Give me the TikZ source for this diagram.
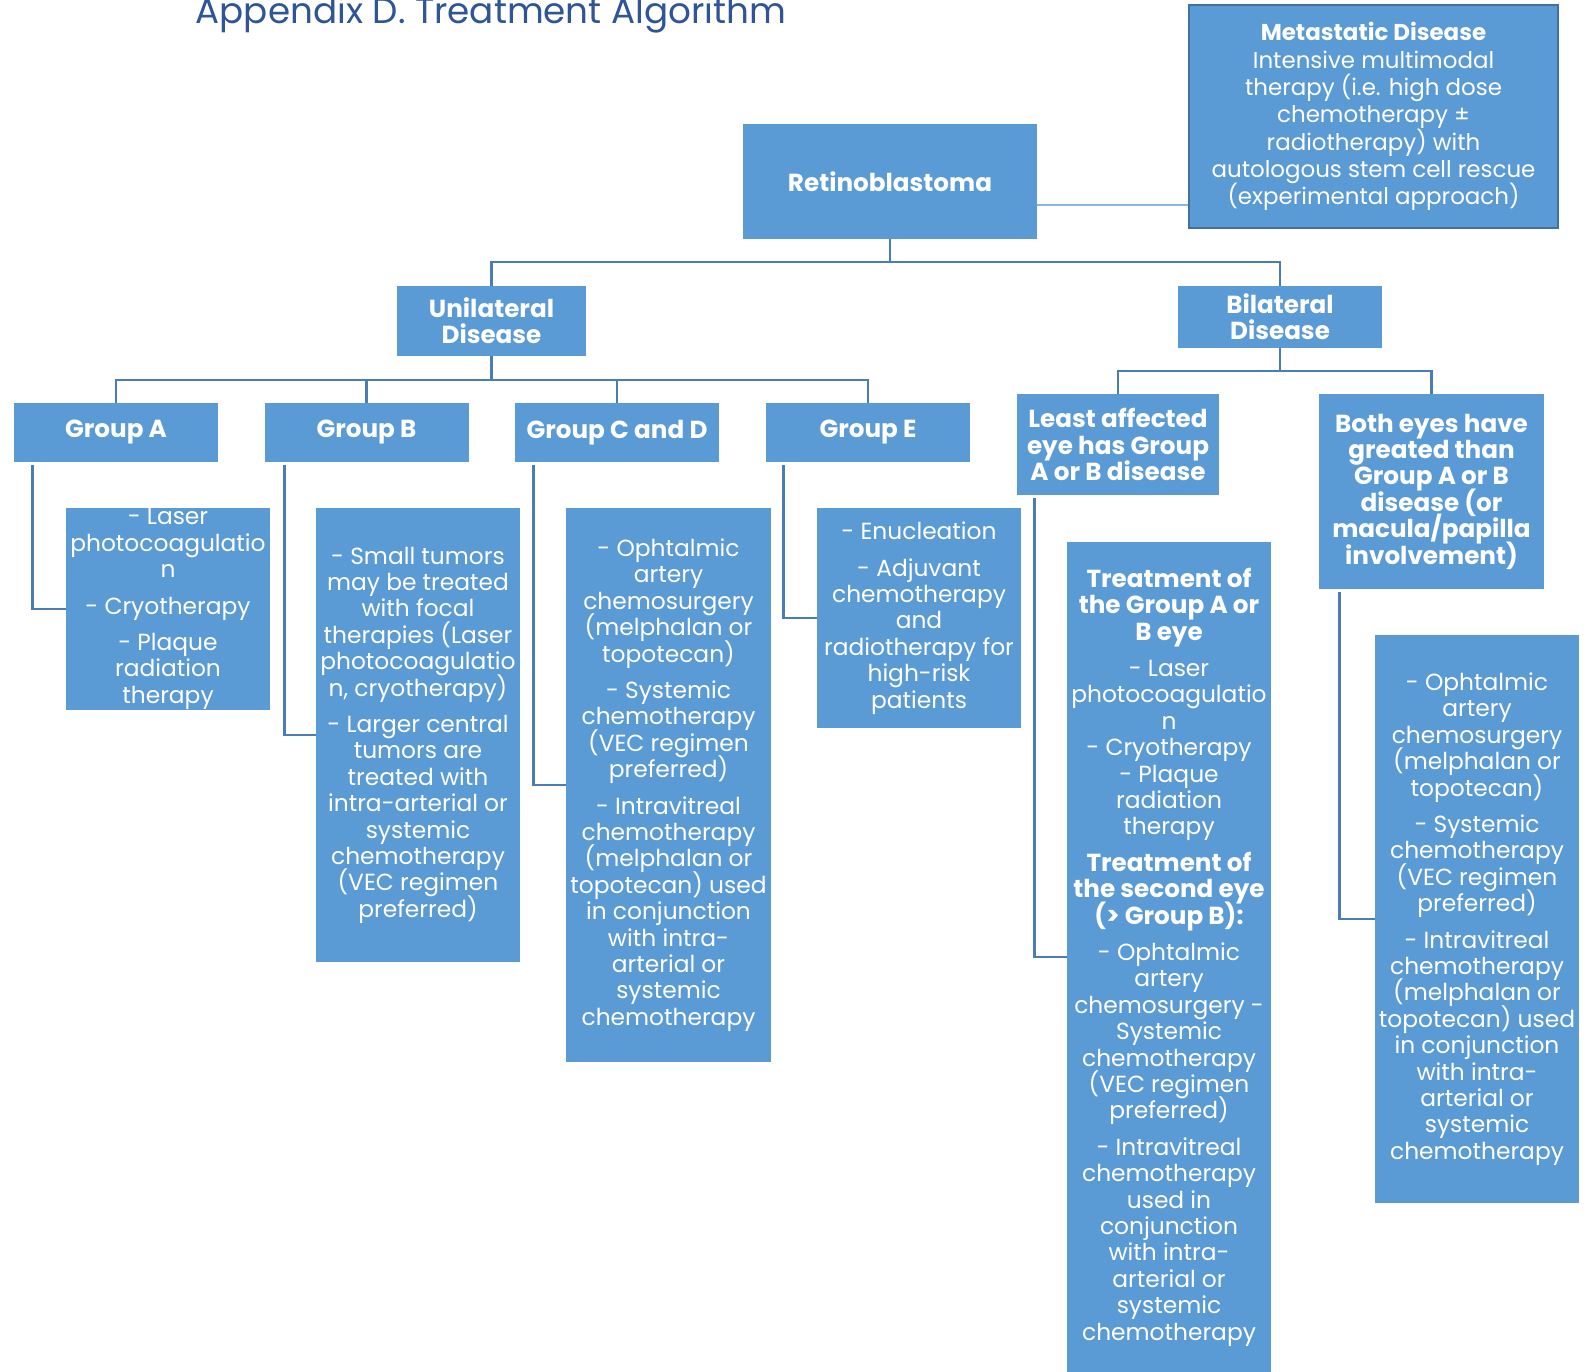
\documentclass[tikz,border=0pt]{standalone}
\usepackage{fontspec}
\setmainfont{Poppins}
\definecolor{boxblue}{HTML}{5B9BD5}
\definecolor{linkblue}{HTML}{4A7DB5}
\definecolor{lightlink}{HTML}{8EB4E3}
\definecolor{metaedge}{HTML}{41719C}
\definecolor{titleblue}{HTML}{2F5597}
\newcommand\hb[1]{{\fontsize{18.5}{19.8}\selectfont\bfseries #1}}
\newcommand\tightskip{\lineskiplimit=-30pt\relax\lineskip=0pt\relax}
\begin{document}
\begin{tikzpicture}[x=0.75pt,y=-0.75pt,
  box/.style 2 args={fill=boxblue, draw=none, inner sep=0pt, align=center, text=white,
     minimum width=#1*0.75pt, minimum height=#2*0.75pt,
     font=\fontsize{17.5}{19.8}\selectfont\tightskip},
  hd/.style={font=\fontsize{18.5}{19.8}\selectfont\bfseries\tightskip},
  link/.style={draw=linkblue, line width=2.2pt},
  lightlink/.style={draw=lightlink, line width=1.5pt}]
\useasboundingbox (0,0) rectangle (1594,1371);
\def\gap{7.5pt}

\node[anchor=base west, text=titleblue, font=\fontsize{26.8}{30}\selectfont] (title) at (191,23) {Appendix D. Treatment Algorithm};

% top level
\node[box={294}{115}, hd] (retino) at (890,181.5) {Retinoblastoma};
\node[box={369}{223}, draw=metaedge, line width=1.9pt, font=\fontsize{17.2}{20.5}\selectfont\tightskip] (meta) at (1373.5,116.5)
  {\textbf{Metastatic Disease}\\Intensive multimodal\\therapy (i.e. high dose\\chemotherapy ±\\radiotherapy) with\\autologous stem cell rescue\\(experimental approach)};

\node[box={189}{70}, hd] (uni) at (491.5,321) {Unilateral\\Disease};
\node[box={204}{62}, hd] (bil) at (1280,317) {Bilateral\\Disease};

% groups
\node[box={204}{59}, hd] (gA) at (116,432.5) {Group A};
\node[box={204}{59}, hd] (gB) at (366.5,432.5) {Group B};
\node[box={204}{59}, hd] (gCD) at (617,432.5) {Group C and D};
\node[box={204}{59}, hd] (gE) at (868,432.5) {Group E};

\node[box={202}{101}, hd] (least) at (1118,444.5) {Least affected\\eye has Group\\A or B disease};
\node[box={225}{195}, hd] (both) at (1431.5,491.5) {Both eyes have\\greated than\\Group A or B\\disease (or\\macula/papilla\\involvement)};

% details
\node[box={204}{202}] (dA) at (168,609) {- Laser\\photocoagulatio\\n\\[\gap]- Cryotherapy\\[\gap]- Plaque\\radiation\\therapy};
\node[box={204}{454}] (dB) at (418,735) {- Small tumors\\may be treated\\with focal\\therapies (Laser\\photocoagulatio\\n, cryotherapy)\\[\gap]- Larger central\\tumors are\\treated with\\intra-arterial or\\systemic\\chemotherapy\\(VEC regimen\\preferred)};
\node[box={205}{554}] (dCD) at (668.5,785) {- Ophtalmic\\artery\\chemosurgery\\(melphalan or\\topotecan)\\[\gap]- Systemic\\chemotherapy\\(VEC regimen\\preferred)\\[\gap]- Intravitreal\\chemotherapy\\(melphalan or\\topotecan) used\\in conjunction\\with intra-\\arterial or\\systemic\\chemotherapy};
\node[box={204}{220}] (dE) at (919,618) {- Enucleation\\[\gap]- Adjuvant\\chemotherapy\\and\\radiotherapy for\\high-risk\\patients};
\node[box={204}{830}] (treat) at (1169,957) {\hb{Treatment of}\\\hb{the Group A or}\\\hb{B eye}\\[\gap]- Laser\\photocoagulatio\\n\\- Cryotherapy\\- Plaque\\radiation\\therapy\\[\gap]\hb{Treatment of}\\\hb{the second eye}\\\hb{(> Group B):}\\[\gap]- Ophtalmic\\artery\\chemosurgery -\\Systemic\\chemotherapy\\(VEC regimen\\preferred)\\[\gap]- Intravitreal\\chemotherapy\\used in\\conjunction\\with intra-\\arterial or\\systemic\\chemotherapy};
\node[box={204}{568}] (dR) at (1477,919) {- Ophtalmic\\artery\\chemosurgery\\(melphalan or\\topotecan)\\[\gap]- Systemic\\chemotherapy\\(VEC regimen\\preferred)\\[\gap]- Intravitreal\\chemotherapy\\(melphalan or\\topotecan) used\\in conjunction\\with intra-\\arterial or\\systemic\\chemotherapy};

% connectors
\draw[lightlink] ([yshift=-23.5*0.75pt]retino.east) -- ([yshift=-23.5*0.75pt]retino.east -| meta.west);
\coordinate (hub) at (890,262);
\draw[link] (retino.south) -- (hub);
\draw[link] (hub) -| (uni.north);
\draw[link] (hub) -| (bil.north);

\coordinate (uhub) at (491.5,380);
\draw[link] (uni.south) -- (uhub);
\draw[link] (uhub) -| (gA.north);
\draw[link] (uhub) -| (gB.north);
\draw[link] (uhub) -| (gCD.north);
\draw[link] (uhub) -| (gE.north);

\coordinate (bhub) at (1280,371);
\draw[link] (bil.south) -- (bhub);
\draw[link] (bhub) -| (least.north);
\draw[link] (bhub) -| (both.north);

\draw[link] ([xshift=19*0.75pt,yshift=-3*0.75pt]gA.south west) |- (dA.west);
\draw[link] ([xshift=20*0.75pt,yshift=-3*0.75pt]gB.south west) |- (dB.west);
\draw[link] ([xshift=19*0.75pt,yshift=-3*0.75pt]gCD.south west) |- (dCD.west);
\draw[link] ([xshift=18*0.75pt,yshift=-3*0.75pt]gE.south west) |- (dE.west);
\draw[link] ([xshift=18*0.75pt,yshift=-3*0.75pt]least.south west) |- (treat.west);
\draw[link] ([xshift=21*0.75pt,yshift=-3*0.75pt]both.south west) |- (dR.west);
\end{tikzpicture}
\end{document}
